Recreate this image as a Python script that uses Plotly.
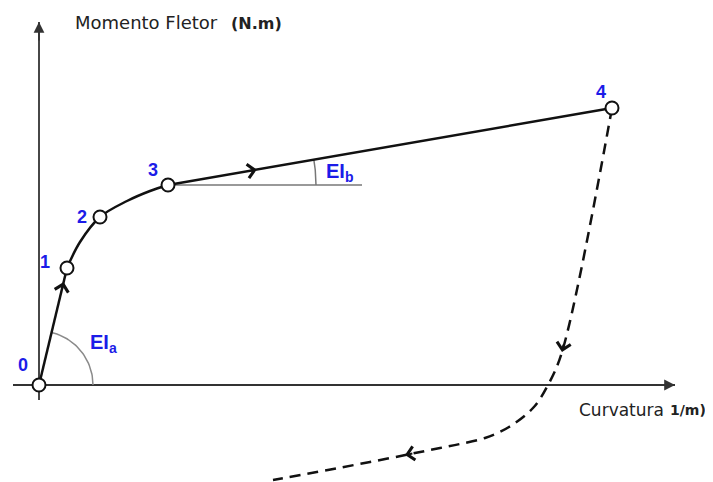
import numpy as np
import plotly.graph_objects as go

# diagram units: origin at point 0, 1 unit ~ 1 px
# loading branch (points 0..4)
pt_labels = ["0", "1", "2", "3", "4"]
pt_curv = [0, 28, 61, 129, 573]
pt_mom = [0, 117, 168, 200, 277]

# curved part between points 1 and 3
bend_curv = [28, 41, 61, 88, 111, 129]
bend_mom = [117, 143, 168, 184, 194, 200]

# unloading branch (dashed), starting at point 4
unl_curv = [573, 523, 509, 494, 470, 446, 421, 401, 331, 234]
unl_mom = [277, 33, 0, -23, -42, -53, -59, -63, -77, -95]

# axis extents
x_axis = [-26, 636]
y_axis = [-15, 363]

BLUE = "#1c1ce8"
INK = "#111111"
AXIS = "#333333"

fig = go.Figure()

# axis lines (arrowheads added as annotations below)
fig.add_trace(go.Scatter(x=x_axis, y=[0, 0], mode="lines",
                         line=dict(color=AXIS, width=1.8), hoverinfo="skip"))
fig.add_trace(go.Scatter(x=[0, 0], y=y_axis, mode="lines",
                         line=dict(color=AXIS, width=1.8), hoverinfo="skip"))

# EI_a arc
ang_a = np.linspace(0, np.arctan2(pt_mom[1], pt_curv[1]), 40)
fig.add_trace(go.Scatter(x=54 * np.cos(ang_a), y=54 * np.sin(ang_a), mode="lines",
                         line=dict(color="#8a8a8a", width=1.5), hoverinfo="skip"))

# EI_b reference line and arc
fig.add_trace(go.Scatter(x=[pt_curv[3], 323], y=[pt_mom[3], pt_mom[3]], mode="lines",
                         line=dict(color="#777777", width=1.5), hoverinfo="skip"))
ang_b = np.linspace(0, np.arctan2(pt_mom[4] - pt_mom[3], pt_curv[4] - pt_curv[3]), 20)
fig.add_trace(go.Scatter(x=pt_curv[3] + 148 * np.cos(ang_b), y=pt_mom[3] + 148 * np.sin(ang_b),
                         mode="lines", line=dict(color="#777777", width=1.5), hoverinfo="skip"))

# loading path
fig.add_trace(go.Scatter(x=pt_curv[:2], y=pt_mom[:2], mode="lines",
                         line=dict(color=INK, width=2.5), hoverinfo="skip"))
fig.add_trace(go.Scatter(x=bend_curv, y=bend_mom, mode="lines",
                         line=dict(color=INK, width=2.5, shape="spline"), hoverinfo="skip"))
fig.add_trace(go.Scatter(x=pt_curv[3:], y=pt_mom[3:], mode="lines",
                         line=dict(color=INK, width=2.5), hoverinfo="skip"))

# unloading path
fig.add_trace(go.Scatter(x=unl_curv, y=unl_mom, mode="lines",
                         line=dict(color=INK, width=2.5, dash="11px,7px", shape="spline", smoothing=1.0),
                         hoverinfo="skip"))

# point circles
fig.add_trace(go.Scatter(x=pt_curv, y=pt_mom, mode="markers",
                         marker=dict(size=13, color="white", line=dict(color=INK, width=2)),
                         hoverinfo="skip"))

annotations = []

# arrowheads on the axes
annotations.append(dict(x=x_axis[1], y=0, ax=x_axis[1] - 20, ay=0, xref="x", yref="y",
                        axref="x", ayref="y", text="", showarrow=True, arrowhead=2,
                        arrowsize=1.2, arrowwidth=1.8, arrowcolor=AXIS, standoff=0))
annotations.append(dict(x=0, y=y_axis[1], ax=0, ay=y_axis[1] - 20, xref="x", yref="y",
                        axref="x", ayref="y", text="", showarrow=True, arrowhead=2,
                        arrowsize=1.2, arrowwidth=1.8, arrowcolor=AXIS, standoff=0))


def chevron(x0, y0, x1, y1, t):
    # open arrowhead placed at fraction t along segment, pointing toward (x1, y1)
    dx, dy = x1 - x0, y1 - y0
    n = np.hypot(dx, dy)
    hx, hy = x0 + t * dx, y0 + t * dy
    return dict(x=hx, y=hy, ax=hx - 9 * dx / n, ay=hy - 9 * dy / n, xref="x", yref="y",
                axref="x", ayref="y", text="", showarrow=True, arrowhead=4,
                arrowsize=1.35, arrowwidth=2, arrowcolor=INK, standoff=0)


annotations.append(chevron(pt_curv[0], pt_mom[0], pt_curv[1], pt_mom[1], 0.88))
annotations.append(chevron(pt_curv[3], pt_mom[3], pt_curv[4], pt_mom[4], 0.2))
annotations.append(chevron(unl_curv[0], unl_mom[0], unl_curv[1], unl_mom[1], 1.0))
annotations.append(chevron(unl_curv[7], unl_mom[7], unl_curv[8], unl_mom[8], 0.5))

# point numbers
num_pos = [(-16, 20), (6, 123), (43, 168), (114, 215), (562, 293)]
for lab, (lx, ly) in zip(pt_labels, num_pos):
    annotations.append(dict(x=lx, y=ly, text="<b>" + lab + "</b>", showarrow=False,
                            xref="x", yref="y",
                            font=dict(family="Liberation Sans", size=18, color=BLUE),
                            xanchor="center", yanchor="middle"))

annotations.append(dict(x=64, y=42, text="<b>EI<sub>a</sub></b>", showarrow=False,
                        font=dict(family="Liberation Sans", size=20, color=BLUE)))
annotations.append(dict(x=300, y=213, text="<b>EI<sub>b</sub></b>", showarrow=False,
                        font=dict(family="Liberation Sans", size=20, color=BLUE)))

# axis titles
annotations.append(dict(x=34, y=363, text="Momento Fletor", showarrow=False, xanchor="left",
                        font=dict(family="DejaVu Sans", size=18, color="#222222")))
annotations.append(dict(x=190, y=362, text="<b>(N.m)</b>", showarrow=False, xanchor="left",
                        font=dict(family="DejaVu Sans", size=16, color="#222222")))
annotations.append(dict(x=538, y=-25, text="Curvatura", showarrow=False, xanchor="left",
                        font=dict(family="DejaVu Sans", size=17, color="#222222")))
annotations.append(dict(x=629, y=-25, text="<b>1/m)</b>", showarrow=False, xanchor="left",
                        font=dict(family="DejaVu Sans", size=14, color="#222222")))

# the page body has an 8px margin, so the figure is shrunk by that much and the
# ranges are set so that the drawing lands where it sits in the reference
fig.update_layout(
    width=705, height=474,
    margin=dict(l=0, r=0, t=0, b=0),
    paper_bgcolor="white", plot_bgcolor="white",
    showlegend=False,
    xaxis=dict(range=[-31, 674], visible=False, fixedrange=True),
    yaxis=dict(range=[-97, 377], visible=False, fixedrange=True),
    annotations=annotations,
)

fig.write_html("out.html")
